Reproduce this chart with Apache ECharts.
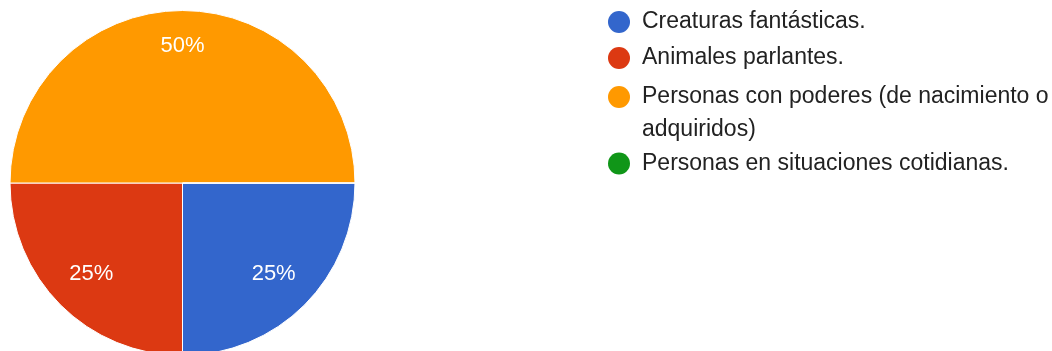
<!DOCTYPE html>
<html><head><meta charset="utf-8">
<script src="https://cdn.jsdelivr.net/npm/echarts@6/dist/echarts.min.js"></script>
<style>html,body{margin:0;padding:0;background:#fff}#c{width:1052px;height:351px}</style>
</head><body><div id="c"></div>
<script>
const categories = ['Creaturas fantásticas.', 'Animales parlantes.', 'Personas con poderes (de nacimiento o adquiridos)', 'Personas en situaciones cotidianas.'];
const values = [25, 25, 50, 0];
const colors = ['#3366cc', '#dc3912', '#ff9900', '#109618'];

const R = 172.5;
const center = [182.5, 183];
const font = '"Liberation Sans", Arial, sans-serif';

const mainData = categories.map((n, i) => ({ name: n, value: values[i], itemStyle: { color: colors[i] } }));
function labelData(showIdx) {
  return categories.map((n, i) => ({ name: n, value: values[i], label: { show: showIdx.indexOf(i) >= 0 } }));
}
const labelSeriesBase = {
  type: 'pie', center: center, startAngle: 0, clockwise: true, silent: true,
  itemStyle: { color: 'rgba(0,0,0,0)', borderWidth: 0 },
  label: { position: 'inside', formatter: '{d}%', color: '#fff', fontSize: 22, fontFamily: font },
  labelLine: { show: false }, emphasis: { disabled: true }, animation: false
};

const legendBase = {
  orient: 'vertical', left: 608, icon: 'circle', itemWidth: 36, itemHeight: 22, padding: 0,
  itemStyle: { borderWidth: 0 },
  textStyle: { fontSize: 23, color: '#222', fontFamily: font, lineHeight: 23 }, selectedMode: false
};
const legendTops = [10.5, 46.5, 47.5, 152];

const option = {
  backgroundColor: '#fff',
  animation: false,
  legend: [
    Object.assign({}, legendBase, { top: legendTops[0], data: [categories[0]] }),
    Object.assign({}, legendBase, { top: legendTops[1], data: [categories[1]] }),
    Object.assign({}, legendBase, { top: legendTops[2], data: [categories[2]],
      formatter: () => '\nPersonas con poderes (de nacimiento o\nadquiridos)',
      textStyle: { fontSize: 23, color: '#222', fontFamily: font, lineHeight: 33 } }),
    Object.assign({}, legendBase, { top: legendTops[3], data: [categories[3]] })
  ],
  series: [
    {
      type: 'pie', center: center, radius: [0, R], startAngle: 0, clockwise: true,
      data: mainData, label: { show: false }, labelLine: { show: false },
      itemStyle: { borderColor: '#fff', borderWidth: 1 }, emphasis: { disabled: true }
    },
    Object.assign({}, labelSeriesBase, { radius: [0.56 * R, R], data: labelData([2]) }),
    Object.assign({}, labelSeriesBase, { radius: [0.46 * R, R], data: labelData([0, 1]) })
  ]
};
const chart = echarts.init(document.getElementById('c'), null, { renderer: 'canvas' });
chart.setOption(option);
</script></body></html>
